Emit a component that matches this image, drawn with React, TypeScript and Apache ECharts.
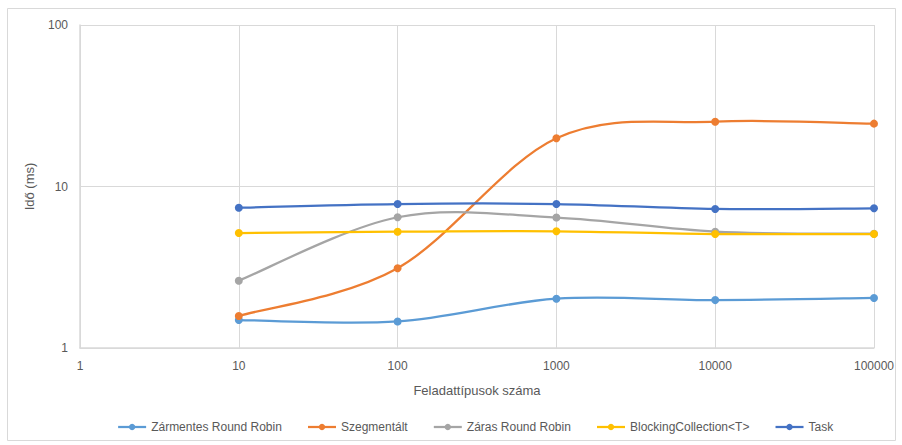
import React, { useEffect, useRef } from "react";
import * as echarts from "echarts";

const xValues = [10, 100, 1000, 10000, 100000];
const zarmentes = [1.49, 1.46, 2.02, 1.98, 2.04];
const szegmentalt = [1.58, 3.12, 19.9, 25.2, 24.5];
const zaras = [2.61, 6.45, 6.42, 5.25, 5.1];
const blocking = [5.15, 5.25, 5.28, 5.08, 5.08];
const task = [7.39, 7.79, 7.79, 7.26, 7.33];

const seriesNames = [
  "Zármentes Round Robin",
  "Szegmentált",
  "Záras Round Robin",
  "BlockingCollection<T>",
  "Task",
];
const seriesColors = ["#5B9BD5", "#ED7D31", "#A5A5A5", "#FFC000", "#4472C4"];
const seriesData = [zarmentes, szegmentalt, zaras, blocking, task];

const FONT = "'Liberation Sans', Arial, sans-serif";

function curveSeries(si: number) {
  const vals = seriesData[si];
  return {
    name: seriesNames[si] + " (curve)",
    type: "custom",
    z: 2,
    silent: true,
    data: xValues.map((x, j) => [x, vals[j]]),
    renderItem: (params: any, api: any) => {
      const i = params.dataIndex;
      const n = xValues.length;
      if (i >= n - 1) return { type: "group", children: [] };
      const pt = (k: number) => {
        const kk = Math.max(0, Math.min(n - 1, k));
        return api.coord([xValues[kk], vals[kk]]);
      };
      const p0 = pt(i - 1);
      const p1 = pt(i);
      const p2 = pt(i + 1);
      const p3 = pt(i + 2);
      const t = 1 / 6;
      return {
        type: "bezierCurve",
        shape: {
          x1: p1[0],
          y1: p1[1],
          x2: p2[0],
          y2: p2[1],
          cpx1: p1[0] + (p2[0] - p0[0]) * t,
          cpy1: p1[1] + (p2[1] - p0[1]) * t,
          cpx2: p2[0] - (p3[0] - p1[0]) * t,
          cpy2: p2[1] - (p3[1] - p1[1]) * t,
        },
        style: {
          fill: "none",
          stroke: seriesColors[si],
          lineWidth: 2.25,
          lineCap: "round",
        },
      };
    },
  };
}

export default function App() {
  const ref = useRef<HTMLDivElement>(null);
  useEffect(() => {
    document.body.style.margin = "0";
    const chart = echarts.init(ref.current!, undefined, { renderer: "svg" });
    const series: any[] = [];
    seriesNames.forEach((name, i) => {
      series.push(curveSeries(i));
      series.push({
        name,
        type: "line",
        z: 3,
        symbol: "circle",
        symbolSize: 8,
        color: seriesColors[i],
        lineStyle: { width: 2.25, color: seriesColors[i], opacity: 0 },
        itemStyle: { color: seriesColors[i] },
        data: xValues.map((x, j) => [x, seriesData[i][j]]),
      });
    });
    chart.setOption({
      animation: false,
      backgroundColor: "#ffffff",
      textStyle: { fontFamily: FONT },
      graphic: [
        {
          type: "rect",
          shape: { x: 7.5, y: 8.5, width: 888, height: 432 },
          style: { fill: "none", stroke: "#d9d9d9", lineWidth: 1 },
          silent: true,
        },
      ],
      grid: { left: 80, right: 28, top: 25, bottom: 97 },
      legend: {
        bottom: 7,
        left: 112,
        itemWidth: 28,
        itemHeight: 8,
        itemGap: 25,
        textStyle: { fontFamily: FONT, fontSize: 12, color: "#595959" },
        data: seriesNames.map((name, i) => ({
          name,
          lineStyle: { color: seriesColors[i], width: 2.25, opacity: 1 },
          itemStyle: { color: seriesColors[i] },
        })),
      },
      xAxis: {
        type: "log",
        logBase: 10,
        min: 1,
        max: 100000,
        name: "Feladattípusok száma",
        nameLocation: "middle",
        nameGap: 36,
        nameTextStyle: { fontFamily: FONT, fontSize: 13, color: "#595959" },
        axisLine: { show: true, lineStyle: { color: "#d9d9d9", width: 1.5 } },
        axisTick: { show: false },
        axisLabel: {
          fontFamily: FONT,
          fontSize: 12,
          color: "#595959",
          margin: 12,
          formatter: (v: number) => String(Math.round(v)),
        },
        splitLine: { show: true, lineStyle: { color: "#d9d9d9", width: 1 } },
      },
      yAxis: {
        type: "log",
        logBase: 10,
        min: 1,
        max: 100,
        name: "Idő (ms)",
        nameLocation: "middle",
        nameGap: 44,
        nameRotate: 90,
        nameTextStyle: { fontFamily: FONT, fontSize: 13, color: "#595959" },
        axisLine: { show: true, lineStyle: { color: "#d9d9d9", width: 1.5 } },
        axisTick: { show: false },
        axisLabel: {
          fontFamily: FONT,
          fontSize: 12,
          color: "#595959",
          margin: 12,
          formatter: (v: number) => String(Math.round(v)),
        },
        splitLine: { show: true, lineStyle: { color: "#d9d9d9", width: 1 } },
      },
      series,
    });
    return () => chart.dispose();
  }, []);
  return <div ref={ref} style={{ width: 902, height: 445 }} />;
}
